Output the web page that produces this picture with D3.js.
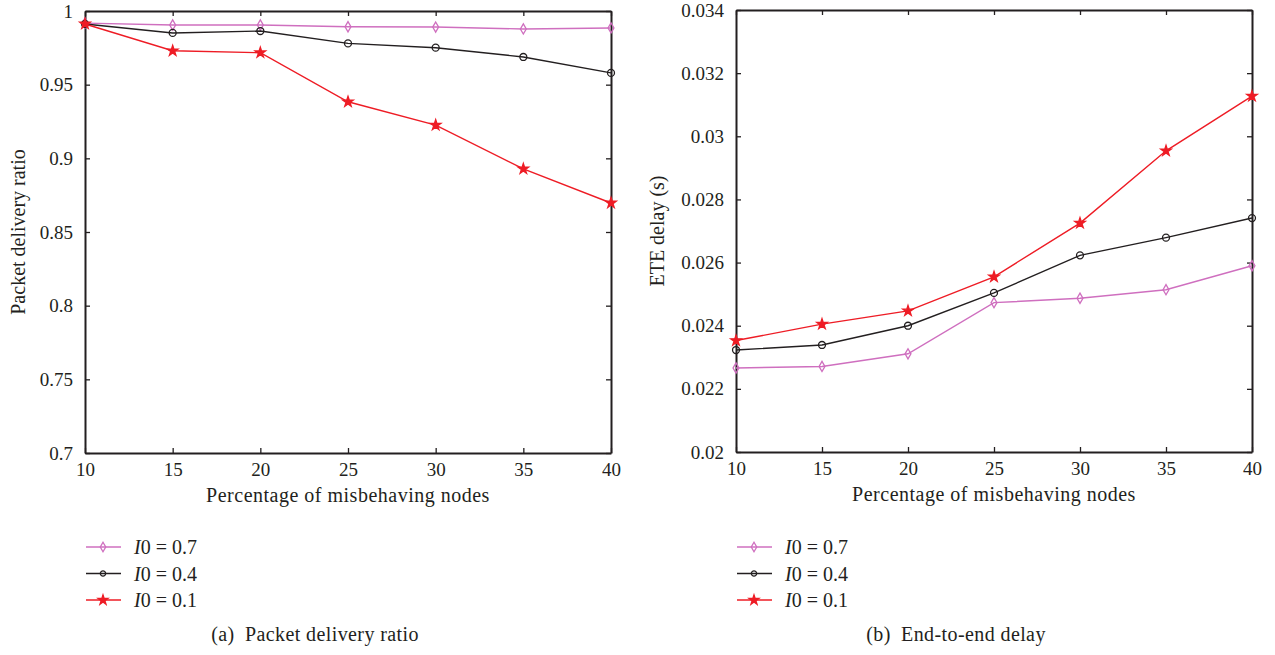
<!DOCTYPE html>
<html>
<head>
<meta charset="utf-8">
<script src="https://cdn.jsdelivr.net/npm/d3@7"></script>
<style>
  body { margin: 0; background: #fff; }
  text { font-family: "Liberation Serif", "DejaVu Serif", serif; fill: #231f20; }
</style>
</head>
<body>
<div id="chart"></div>
<script>
// values
var xVals = [10, 15, 20, 25, 30, 35, 40];
var seriesNames = ["0.7", "0.4", "0.1"];

var pdr07 = [0.9918, 0.9905, 0.9905, 0.9893, 0.9891, 0.9878, 0.9885];
var pdr04 = [0.9912, 0.9851, 0.9864, 0.978, 0.9751, 0.9688, 0.958];
var pdr01 = [0.9912, 0.973, 0.9717, 0.9384, 0.9226, 0.8928, 0.8697];

var ete07 = [0.02266, 0.02271, 0.02311, 0.02473, 0.02487, 0.02514, 0.0259];
var ete04 = [0.02323, 0.02339, 0.024, 0.02504, 0.02623, 0.02679, 0.02741];
var ete01 = [0.02353, 0.02405, 0.02447, 0.02555, 0.02725, 0.02954, 0.03127];

var pdrTicks = [0.7, 0.75, 0.8, 0.85, 0.9, 0.95, 1];
var eteTicks = [0.02, 0.022, 0.024, 0.026, 0.028, 0.03, 0.032, 0.034];

var colors = ["#cf6fbf", "#231f20", "#ee1c25"];
var symbols = [d3.symbolDiamond, d3.symbolCircle, d3.symbolStar];
var markSize = [30, 38, 34];
var legendSize = [26, 22, 30];

const W = 1275, H = 655;

const svg = d3.select("#chart").append("svg")
    .attr("width", W)
    .attr("height", H);

function panel(opts) {
    var x = d3.scaleLinear().domain([10, 40]).range([opts.left, opts.right]);
    var y = d3.scaleLinear().domain(opts.domain).range([opts.bottom, opts.top]);

    var g = svg.append("g");

    // box with inward ticks on all four sides
    g.append("g").attr("transform", `translate(0,${opts.bottom})`)
        .call(d3.axisBottom(x).tickValues(xVals).tickSizeInner(-5).tickSizeOuter(0).tickPadding(10))
        .call(s => s.selectAll("text").style("font-size", "19px"));
    g.append("g").attr("transform", `translate(0,${opts.top})`)
        .call(d3.axisTop(x).tickValues(xVals).tickSizeInner(-5).tickSizeOuter(0).tickFormat(""));
    g.append("g").attr("transform", `translate(${opts.left},0)`)
        .call(d3.axisLeft(y).tickValues(opts.ticks).tickFormat(opts.fmt).tickSizeInner(-5).tickSizeOuter(0).tickPadding(12))
        .call(s => s.selectAll("text").style("font-size", "19px"));
    g.append("g").attr("transform", `translate(${opts.right},0)`)
        .call(d3.axisRight(y).tickValues(opts.ticks).tickSizeInner(-5).tickSizeOuter(0).tickFormat(""));

    g.selectAll(".domain").attr("stroke", "#231f20").attr("stroke-width", 2);
    g.selectAll(".tick line").attr("stroke", "#231f20").attr("stroke-width", 1.3);
    g.selectAll(".tick text").attr("fill", "#231f20");

    var line = d3.line().x((d, i) => x(xVals[i])).y(d => y(d));

    opts.series.forEach((vals, k) => {
        g.append("path")
            .attr("d", line(vals))
            .attr("fill", "none")
            .attr("stroke", colors[k])
            .attr("stroke-width", 1.4);
        g.selectAll(null).data(vals).enter().append("path")
            .attr("transform", (d, i) => `translate(${x(xVals[i])},${y(d)})`)
            .attr("d", d3.symbol().type(symbols[k]).size(markSize[k]))
            .attr("fill", k == 2 ? colors[k] : "none")
            .attr("stroke", colors[k])
            .attr("stroke-width", 1.3);
    });

    // axis titles
    g.append("text")
        .attr("x", (opts.left + opts.right) / 2)
        .attr("y", opts.bottom + 49)
        .attr("text-anchor", "middle")
        .style("font-size", "20px")
        .style("letter-spacing", "0.5px")
        .text("Percentage of misbehaving nodes");
    g.append("text")
        .attr("transform", `translate(${opts.ylabX},${(opts.top + opts.bottom) / 2}) rotate(-90)`)
        .attr("text-anchor", "middle")
        .attr("dy", "0.35em")
        .style("font-size", "20px")
        .text(opts.ylab);

    // legend
    seriesNames.forEach((name, k) => {
        var ly = 547 + k * 26.5;
        var lx = opts.left + 1;
        g.append("line")
            .attr("x1", lx).attr("x2", lx + 35)
            .attr("y1", ly).attr("y2", ly)
            .attr("stroke", colors[k]).attr("stroke-width", 1.4);
        g.append("path")
            .attr("transform", `translate(${lx + 17},${ly})`)
            .attr("d", d3.symbol().type(symbols[k]).size(legendSize[k]))
            .attr("fill", k == 2 ? colors[k] : "none")
            .attr("stroke", colors[k])
            .attr("stroke-width", 1.3);
        var t = g.append("text")
            .attr("x", lx + 48)
            .attr("y", ly)
            .attr("dy", "0.35em")
            .style("font-size", "20px");
        t.append("tspan").style("font-style", "italic").text("I");
        t.append("tspan").text("0 = " + name);
    });

    g.append("text")
        .attr("x", opts.capX)
        .attr("y", 641)
        .attr("text-anchor", "middle")
        .style("font-size", "20px")
        .style("letter-spacing", "0.4px")
        .text(opts.caption);
}

panel({
    left: 85, right: 611, top: 11, bottom: 453,
    domain: [0.7, 1], ticks: pdrTicks, fmt: d => d3.format("")(+d.toFixed(2)),
    series: [pdr07, pdr04, pdr01],
    ylab: "Packet delivery ratio", ylabX: 18,
    caption: "(a)\u2002Packet delivery ratio", capX: 315
});

panel({
    left: 736, right: 1252, top: 10, bottom: 452,
    domain: [0.02, 0.034], ticks: eteTicks, fmt: d => d3.format("")(+d.toFixed(3)),
    series: [ete07, ete04, ete01],
    ylab: "ETE delay (s)", ylabX: 657,
    caption: "(b)\u2002End-to-end delay", capX: 956
});
</script>
</body>
</html>
